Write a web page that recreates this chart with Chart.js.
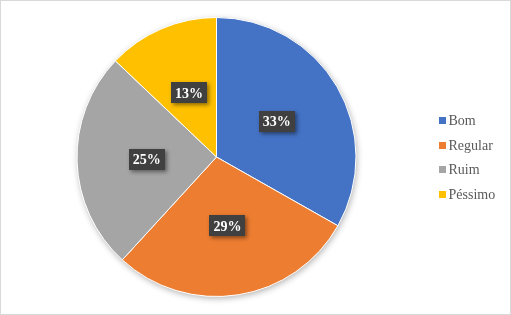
<!DOCTYPE html>
<html>
<head>
<meta charset="utf-8">
<script src="https://cdn.jsdelivr.net/npm/chart.js@4.4.0/dist/chart.umd.min.js"></script>
<style>
  html, body { margin: 0; padding: 0; background: #fff; }
</style>
</head>
<body>
<canvas id="pieChart" width="511" height="315"></canvas>
<script>
const categories = ['Bom', 'Regular', 'Ruim', 'Péssimo'];
const values = [33.2, 28.6, 25.3, 12.9];
const colors = ['#4472C4', '#ED7D31', '#A5A5A5', '#FFC000'];

const serif = '"Liberation Serif", "Times New Roman", serif';

// frame + soft shadow behind the pie
const backdrop = {
    id: 'backdrop',
    beforeDraw(chart) {
        const ctx = chart.ctx;
        ctx.save();
        ctx.fillStyle = '#fff';
        ctx.fillRect(0, 0, chart.width, chart.height);
        ctx.strokeStyle = '#d9d9d9';
        ctx.lineWidth = 1;
        ctx.strokeRect(0.5, 0.5, chart.width - 1, chart.height - 1);
        ctx.restore();
    },
    beforeDatasetsDraw(chart) {
        const arc = chart.getDatasetMeta(0).data[0];
        if (!arc) return;
        const ctx = chart.ctx;
        ctx.save();
        ctx.beginPath();
        ctx.arc(arc.x, arc.y, arc.outerRadius, 0, Math.PI * 2);
        ctx.shadowColor = 'rgba(0,0,0,0.3)';
        ctx.shadowBlur = 6;
        ctx.shadowOffsetX = 1;
        ctx.shadowOffsetY = 2;
        ctx.fillStyle = '#fff';
        ctx.fill();
        ctx.restore();
    }
};

// percentage labels in dark boxes
const sliceLabels = {
    id: 'sliceLabels',
    afterDatasetsDraw(chart) {
        const ctx = chart.ctx;
        const data = chart.data.datasets[0].data;
        const total = data.reduce((a, b) => a + b, 0);
        ctx.save();
        ctx.font = 'bold 14px ' + serif;
        ctx.textAlign = 'center';
        ctx.textBaseline = 'middle';
        chart.getDatasetMeta(0).data.forEach((arc, i) => {
            const p = arc.tooltipPosition();
            const txt = Math.round(data[i] / total * 100) + '%';
            const w = ctx.measureText(txt).width + 8;
            const h = 21;
            ctx.save();
            ctx.shadowColor = 'rgba(0,0,0,0.45)';
            ctx.shadowBlur = 4;
            ctx.shadowOffsetX = 2;
            ctx.shadowOffsetY = 2;
            ctx.fillStyle = '#404040';
            ctx.fillRect(Math.round(p.x - w / 2), Math.round(p.y - h / 2), Math.round(w), h);
            ctx.restore();
            ctx.fillStyle = '#fff';
            ctx.fillText(txt, p.x, p.y + 1);
        });
        ctx.restore();
    }
};

// legend on the right
const sideLegend = {
    id: 'sideLegend',
    afterDraw(chart) {
        const ctx = chart.ctx;
        const bg = chart.data.datasets[0].backgroundColor;
        ctx.save();
        ctx.font = '14px ' + serif;
        ctx.textBaseline = 'middle';
        chart.data.labels.forEach((label, i) => {
            const y = 120.5 + i * 24.6;
            ctx.fillStyle = bg[i];
            ctx.fillRect(439, Math.round(y - 3.5), 7, 7);
            ctx.fillStyle = '#595959';
            ctx.fillText(label, 448.5, y + 1);
        });
        ctx.restore();
    }
};

const chart = new Chart(document.getElementById('pieChart'), {
    type: 'pie',
    data: {
        labels: categories,
        datasets: [{
            data: values,
            backgroundColor: colors,
            borderColor: '#fff',
            borderWidth: 1
        }]
    },
    options: {
        responsive: false,
        animation: false,
        layout: { padding: { top: 17, bottom: 18, left: 60, right: 138 } },
        plugins: {
            legend: { display: false },
            tooltip: { enabled: false }
        }
    },
    plugins: [backdrop, sliceLabels, sideLegend]
});
</script>
</body>
</html>
